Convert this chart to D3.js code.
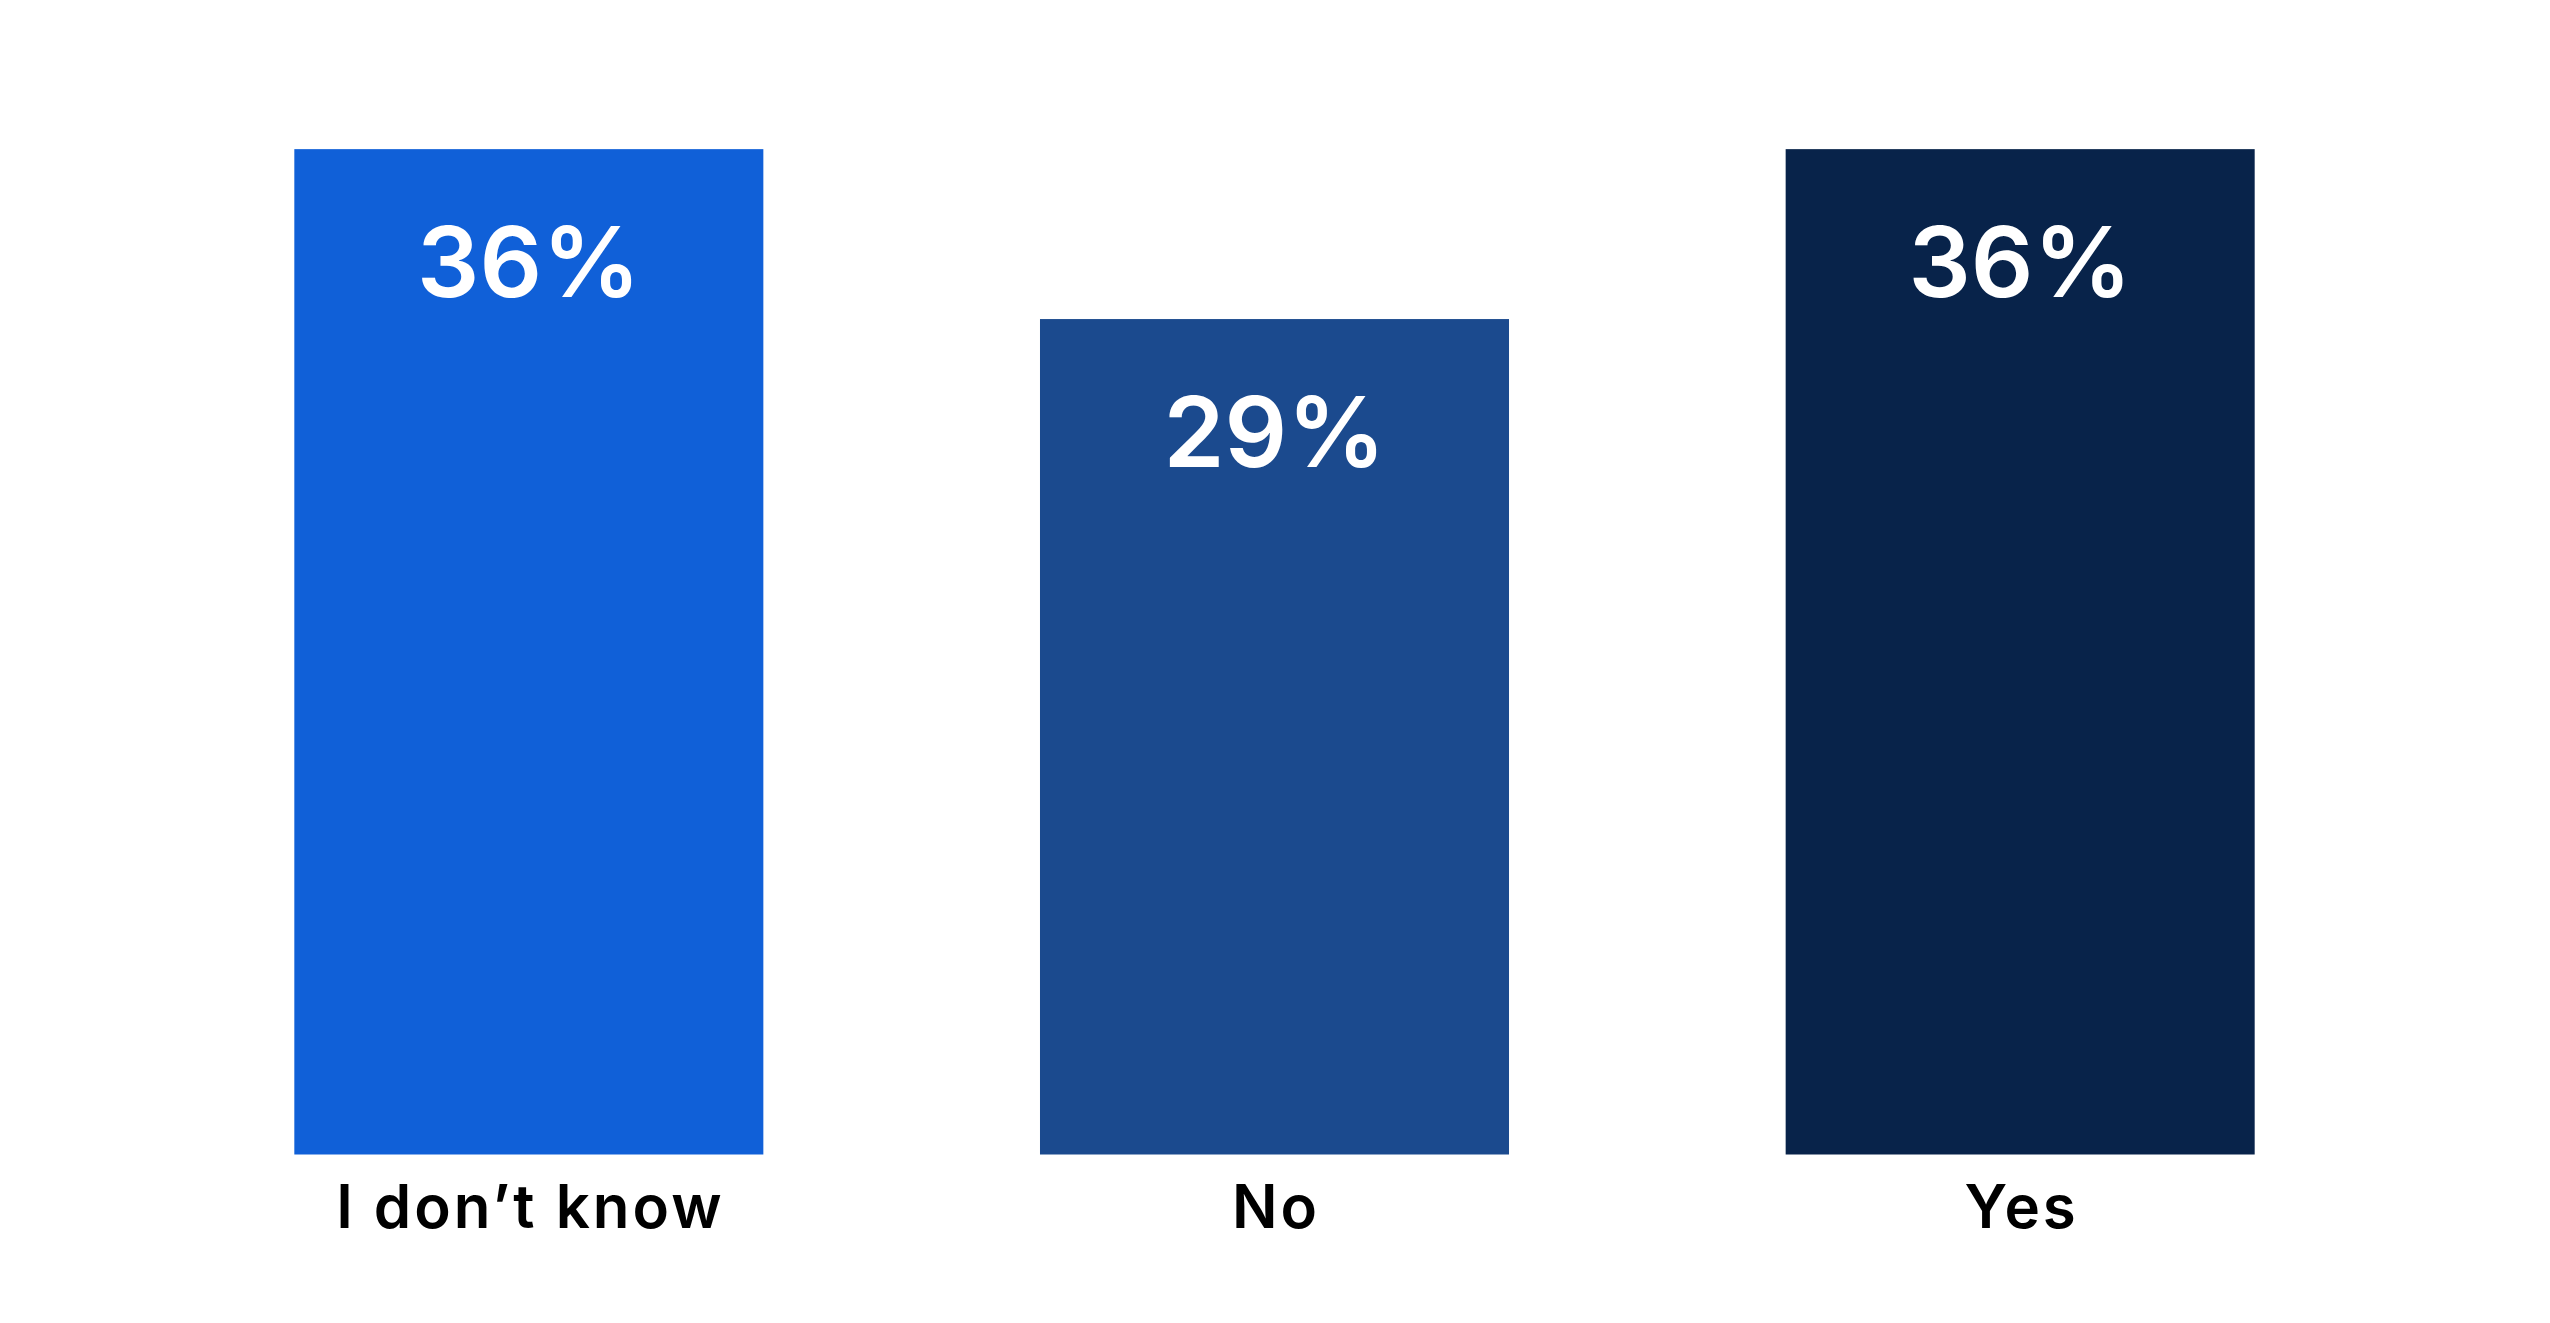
<!DOCTYPE html>
<html>
<head>
<meta charset="utf-8">
<script src="https://cdn.jsdelivr.net/npm/d3@7"></script>
<style>
  html, body { margin: 0; padding: 0; background: #ffffff; }
  svg { display: block; }
</style>
</head>
<body>
<svg id="chart" width="2550" height="1323"></svg>
<script>
const categories = ["I don\u2019t know", "No", "Yes"];
const values = [35.5, 29.5, 35.5];
const valueLabels = ["36%", "29%", "36%"];
const colors = ["#1060D8", "#1B4A8E", "#08234A"];

const W = 2550, H = 1323;
const svg = d3.select("#chart");

const x = d3.scaleBand()
  .domain(categories)
  .range([156, 2393])
  .paddingInner(0.371)
  .paddingOuter(0.1855);

const y = d3.scaleLinear()
  .domain([0, 40])
  .range([1154.5, 1154.5 - 40 * 28.32]);

const g = svg.append("g");

g.selectAll("rect.bar")
  .data(categories)
  .join("rect")
  .attr("class", "bar")
  .attr("x", d => x(d))
  .attr("width", x.bandwidth())
  .attr("y", (d, i) => y(values[i]))
  .attr("height", (d, i) => y(0) - y(values[i]))
  .attr("fill", (d, i) => colors[i]);

g.selectAll("text.val")
  .data(categories)
  .join("text")
  .attr("class", "val")
  .attr("x", d => x(d) + x.bandwidth() / 2)
  .attr("y", (d, i) => y(values[i]) + 148)
  .attr("text-anchor", "middle")
  .attr("fill", "#ffffff")
  .style("font-family", "Inter, 'Noto Sans', sans-serif")
  .style("font-weight", 600)
  .style("font-size", "98px")
  .text((d, i) => valueLabels[i]);

const xAxis = d3.axisBottom(x).tickSize(0).tickPadding(0);
const ax = svg.append("g")
  .attr("transform", `translate(0, ${y(0)})`)
  .call(xAxis);
ax.select(".domain").remove();
ax.selectAll("text")
  .attr("y", 0)
  .attr("dy", 0)
  .attr("transform", "translate(1.5, 73)")
  .attr("fill", "#000000")
  .style("font-family", "Inter, 'Noto Sans', sans-serif")
  .style("font-weight", 600)
  .style("font-size", "60px")
  .style("letter-spacing", "3px");
</script>
</body>
</html>
